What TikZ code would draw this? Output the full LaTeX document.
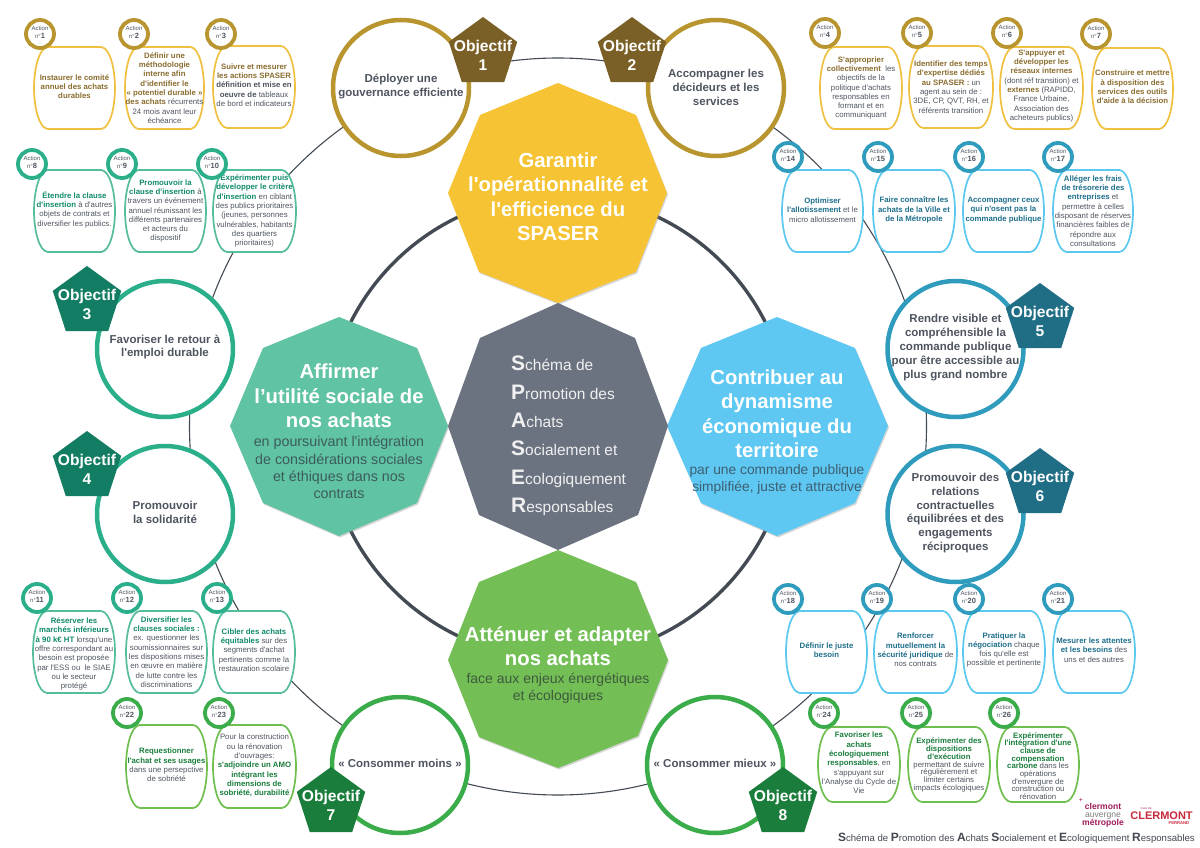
\documentclass[tikz,border=0pt]{standalone}
\usepackage{fontspec}
\setmainfont{Liberation Sans}[Ligatures=TeXOff]
\usetikzlibrary{shapes.geometric,shadows,calc}
\definecolor{ringdark}{HTML}{434A54}
\definecolor{bodytext}{HTML}{4F5560}
\definecolor{octyellow}{HTML}{F5C334}
\definecolor{octteal}{HTML}{60C3A3}
\definecolor{octblue}{HTML}{5EC8F2}
\definecolor{octgreen}{HTML}{73BF56}
\definecolor{octgray}{HTML}{6B7280}
\definecolor{subteal}{HTML}{3C5C5C}
\definecolor{subblue}{HTML}{3D5F72}
\definecolor{subgreen}{HTML}{3E5A3C}
\definecolor{goldring}{HTML}{B8952F}
\definecolor{goldbox}{HTML}{F0C040}
\definecolor{goldtitle}{HTML}{8A6D2F}
\definecolor{goldpent}{HTML}{7A6026}
\definecolor{tealring}{HTML}{2BAF8A}
\definecolor{tealbox}{HTML}{55BD9B}
\definecolor{tealtitle}{HTML}{0F8A6A}
\definecolor{tealpent}{HTML}{127D62}
\definecolor{bluering}{HTML}{2F9CBD}
\definecolor{bluebox}{HTML}{5BC8EF}
\definecolor{bluetitle}{HTML}{1F6F8B}
\definecolor{bluepent}{HTML}{1F6E86}
\definecolor{greenring}{HTML}{3AAC4A}
\definecolor{greenbox}{HTML}{6FBF4F}
\definecolor{greentitle}{HTML}{1A7D3C}
\definecolor{greenpent}{HTML}{1A7D3C}
\definecolor{logomag}{HTML}{A01A5A}
\definecolor{logored}{HTML}{C8283C}
\colorlet{titlecol}{black}
\newcommand\Kt[1]{{\bfseries\color{titlecol}#1}}
\newcommand\Dk[1]{{\bfseries\color{bodytext}#1}}
\newcommand\boxls{9.3}
\newcommand\actbox[8]{%
  \begin{scope}[shift={(#2,#3)},xscale={#4-#2},yscale={#5-#3}]
    \draw[barrelbox,draw=#6box] (.17,0) -- (.83,0) .. controls (.94,.01) and (1,.27) .. (1,.5)
      .. controls (1,.73) and (.94,.99) .. (.83,1) -- (.17,1)
      .. controls (.06,.99) and (0,.73) .. (0,.5) .. controls (0,.27) and (.06,.01) .. (.17,0) -- cycle;
  \end{scope}
  \colorlet{titlecol}{#6title}
  \node[boxtext] (box#1) at ({(#2+#4)/2},#7) {#8};
}
\newcommand\badge[4]{%
  \node[badgering,draw=#4ring] (ring#1) at (#2,#3) {};
  \node[badgetext] (act#1) at ($(ring#1)+(0,-2)$) {Action\\n°\textbf{\fontsize{7.5}{8}\selectfont #1}};
}
\newcommand\objective[8]{%
  % id, circle x, y, colour, pentagon x, y, text y, text
  \node[objcircle,draw=#4ring] (circ#1) at (#2,#3) {};
  \node[objtext] (lab#1) at (#2,#7) {#8};
  \node[pent,fill=#4pent] (pent#1) at (#5,#6) {};
  \node[penttext] (num#1) at ($(pent#1)+(0,2.5)$) {Objectif\\#1};
}
\tikzset{
  barrelbox/.style={fill=white,line width=1.7pt,line join=round},
  boxtext/.style={align=center,inner sep=0pt,text=bodytext,font=\fontsize{7.8}{\boxls}\selectfont},
  badgering/.style={circle,fill=white,line width=3.8pt,minimum size=28pt,inner sep=0pt},
  badgetext/.style={align=center,inner sep=0pt,text=bodytext,font=\fontsize{6}{8}\selectfont},
  objcircle/.style={circle,fill=white,line width=4.5pt,minimum size=136pt,inner sep=0pt},
  objtext/.style={align=center,inner sep=0pt,text=bodytext,font=\fontsize{11.5}{13.8}\selectfont\bfseries},
  pent/.style={regular polygon,regular polygon sides=5,minimum size=72pt,inner sep=0pt},
  penttext/.style={align=center,inner sep=0pt,text=white,font=\fontsize{15.6}{18.5}\selectfont\bfseries},
  octshadow/.style={drop shadow={shadow xshift=1pt,shadow yshift=-1.5pt,opacity=.35,fill=black!45}},
  octtitle/.style={align=center,inner sep=0pt,text=white,font=\fontsize{20.3}{24.5}\selectfont\bfseries},
  octsub/.style={align=center,inner sep=0pt,font=\fontsize{#1}{17.2}\selectfont},
  outerring/.style={draw=ringdark,line width=1.1pt},
  innerring/.style={draw=ringdark,line width=3.4pt},
}
\newcommand\Ini[1]{{\fontsize{21}{28.3}\selectfont\bfseries #1}}
\newcommand\Cin[1]{{\fontsize{12}{14}\selectfont\bfseries #1}}
\begin{document}
\begin{tikzpicture}[x=1pt,y=-1pt]
\useasboundingbox[fill=white] (0,0) rectangle (1200,848);

% rings
\coordinate (hub) at (558,426.5);
\draw[outerring] (hub) circle[radius=368.5pt];
\draw[innerring] (hub) circle[radius=232pt];

% octagons
\fill[octyellow,octshadow] (558,83) -- (636,115) -- (667,193) -- (636,272) -- (558,303) -- (479,272) -- (448,193) -- (480,115) -- cycle;
\fill[octteal,octshadow] (339,317) -- (417,348) -- (448,426) -- (417,503) -- (339,536) -- (263,503) -- (230,426) -- (263,348) -- cycle;
\fill[octblue,octshadow] (777,317) -- (855,348) -- (888,426) -- (855,503) -- (777,536) -- (701,503) -- (667,426) -- (701,348) -- cycle;
\fill[octgreen,octshadow] (558,550) -- (636,582) -- (668,660) -- (638,736) -- (558,768) -- (479,737) -- (448,660) -- (479,582) -- cycle;
\fill[octgray] (558,303) -- (635,338) -- (668,426) -- (638,515) -- (558,550) -- (479,515) -- (448,426) -- (480,338) -- cycle;

\node[octtitle] (t1) at (558,196.5) {Garantir\\l'opérationnalité et\\l'efficience du\\SPASER};
\node[octtitle] (t2) at (339,396) {Affirmer\\l’utilité sociale de\\nos achats};
\node[octsub=14.3,text=subteal] (s2) at (339,467.5) {en poursuivant l'intégration\\de considérations sociales\\et éthiques dans nos\\contrats};
\node[octtitle] (t3) at (777,413.5) {Contribuer au\\dynamisme\\économique du\\territoire};
\node[octsub=13.8,text=subblue] (s3) at (777,479.5) {par une commande publique\\simplifiée, juste et attractive};
\node[octtitle] (t4) at (558,646) {Atténuer et adapter\\nos achats};
\node[octsub=14,text=subgreen] (s4) at (558,688.5) {face aux enjeux énergétiques\\et écologiques};
\node[align=left,anchor=west,inner sep=0pt,text=white!94!black,font=\fontsize{15.5}{28.3}\selectfont] (centre) at (511,436)
 {\Ini{S}chéma de\\\Ini{P}romotion des\\\Ini{A}chats\\\Ini{S}ocialement et\\\Ini{E}cologiquement\\\Ini{R}esponsables};

% objectives
\objective{1}{401}{88}{gold}{483}{53}{86.5}{Déployer une\\gouvernance efficiente}
\objective{2}{716}{88}{gold}{632}{53}{87.5}{Accompagner les\\décideurs et les\\services}
\objective{3}{165}{349}{teal}{87}{302}{347}{Favoriser le retour à\\l'emploi durable}
\objective{4}{165}{514}{teal}{87}{467}{512}{Promouvoir\\la solidarité}
\objective{5}{955.5}{349}{blue}{1040}{319}{347.5}{Rendre visible et\\compréhensible la\\commande publique\\pour être accessible au\\plus grand nombre}
\objective{6}{955.5}{514}{blue}{1040}{484}{513}{Promouvoir des\\relations\\contractuelles\\équilibrées et des\\engagements\\réciproques}
\objective{7}{400}{765}{green}{331}{803}{763}{« Consommer moins »}
\objective{8}{715}{765}{green}{783}{803}{763}{« Consommer mieux »}

% action boxes
\actbox{1}{34}{47}{115}{129}{gold}{86.5}{\Kt{Instaurer le comité}\\\Kt{annuel des achats}\\\Kt{durables}}
\actbox{2}{125}{47}{204}{129}{gold}{88}{\Kt{Définir une}\\\Kt{méthodologie}\\\Kt{interne afin}\\\Kt{d'identifier le}\\\Kt{« potentiel durable »}\\\Kt{des achats} récurrents\\24 mois avant leur\\échéance}
\actbox{3}{213}{46}{295}{128}{gold}{85}{\Kt{Suivre et mesurer}\\\Kt{les actions SPASER}\\\Dk{définition et mise en}\\\Dk{oeuvre de} tableaux\\de bord et indicateurs}
\actbox{4}{820}{47}{902}{129}{gold}{88}{\Kt{S'approprier}\\\Kt{collectivement}~ les\\objectifs de la\\politique d'achats\\responsables en\\formant et en\\communiquant}
\actbox{5}{909}{46}{993}{128}{gold}{87}{\Kt{Identifier des temps}\\\Kt{d'expertise dédiés}\\\Kt{au SPASER :} un\\agent au sein de :\\3DE, CP, QVT, RH, et\\référents transition}
\actbox{6}{1000}{47}{1083}{129}{gold}{86}{\Kt{S'appuyer et}\\\Kt{développer les}\\\Kt{réseaux internes}\\(dont réf transition) et\\\Kt{externes} (RAPIDD,\\France Urbaine,\\Association des\\acheteurs publics)}
\actbox{7}{1092}{48}{1173}{129}{gold}{87}{\Kt{Construire et mettre}\\\Kt{à disposition des}\\\Kt{services des outils}\\\Kt{d'aide à la décision}}
\actbox{8}{34}{170}{115}{252}{teal}{209.5}{\Kt{Étendre la clause}\\\Kt{d'insertion} à d'autres\\objets de contrats et\\diversifier les publics.}
\actbox{9}{125}{170}{206}{252}{teal}{211}{\Kt{Promouvoir la}\\\Kt{clause d'insertion} à\\travers un événement\\annuel réunissant les\\différents partenaires\\et acteurs du\\dispositif}
\actbox{10}{213}{170}{296}{252}{teal}{211}{\Kt{Expérimenter puis}\\\Kt{développer le critère}\\\Kt{d'insertion} en ciblant\\des publics prioritaires\\(jeunes, personnes\\vulnérables, habitants\\des quartiers\\prioritaires)}
\actbox{11}{33}{611}{115}{693}{teal}{654}{\Kt{Réserver les}\\\Kt{marchés inférieurs}\\\Kt{à 90 k€ HT} lorsqu'une\\offre correspondant au\\besoin est proposée\\par l'ESS ou~ le SIAE\\ou le secteur\\protégé}
\actbox{12}{126}{611}{207}{693}{teal}{652}{\Kt{Diversifier les}\\\Kt{clauses sociales :}\\ex. questionner les\\soumissionnaires sur\\les dispositions mises\\en œuvre en matière\\de lutte contre les\\discriminations}
\actbox{13}{213}{611}{295}{693}{teal}{650}{\Kt{Cibler des achats}\\\Kt{équitables} sur des\\segments d'achat\\pertinents comme la\\restauration scolaire}
\actbox{14}{782}{170}{863}{252}{blue}{210}{\Kt{Optimiser}\\\Kt{l'allotissement} et le\\micro allotissement}
\actbox{15}{873}{170}{955}{252}{blue}{210}{\Kt{Faire connaître les}\\\Kt{achats de la Ville et}\\\Kt{de la Métropole}}
\actbox{16}{963}{170}{1044}{252}{blue}{210}{\Kt{Accompagner ceux}\\\Kt{qui n'osent pas la}\\\Kt{commande publique}}
\actbox{17}{1053}{170}{1133}{252}{blue}{211}{\Kt{Alléger les frais}\\\Kt{de trésorerie des}\\\Kt{entreprises} et\\permettre à celles\\disposant de réserves\\financières faibles de\\répondre aux\\consultations}
\actbox{18}{786}{611}{867}{693}{blue}{650.5}{\Kt{Définir le juste}\\\Kt{besoin}}
\actbox{19}{874}{611}{957}{693}{blue}{650}{\Kt{Renforcer}\\\Kt{mutuellement la}\\\Kt{sécurité juridique} de\\nos contrats}
\actbox{20}{963}{611}{1045}{693}{blue}{650}{\Kt{Pratiquer la}\\\Kt{négociation} chaque\\fois qu'elle est\\possible et pertinente}
\actbox{21}{1053}{611}{1135}{693}{blue}{650}{\Kt{Mesurer les attentes}\\\Kt{et les besoins} des\\uns et des autres}
\actbox{22}{126}{725}{207}{808}{green}{765}{\Kt{Requestionner}\\\Kt{l'achat et ses usages}\\dans une persepctive\\de sobriété}
\actbox{23}{213}{725}{296}{808}{green}{765.5}{Pour la construction\\ou la rénovation\\d'ouvrages:\\\Kt{s'adjoindre un AMO}\\\Kt{intégrant les}\\\Kt{dimensions de}\\\Kt{sobriété, durabilité}}
\actbox{24}{818}{727}{900}{802}{green}{763}{\Kt{Favoriser les}\\\Kt{achats}\\\Kt{écologiquement}\\\Kt{responsables}, en\\s'appuyant sur\\l'Analyse du Cycle de\\Vie}
\renewcommand\boxls{7.7}
\actbox{25}{908}{727}{990}{802}{green}{765}{\Kt{Expérimenter des}\\\Kt{dispositions}\\\Kt{d'exécution}\\permettant de suivre\\régulièrement et\\limiter certains\\impacts écologiques}
\actbox{26}{997}{727}{1079}{802}{green}{766}{\Kt{Expérimenter}\\\Kt{l'intégration d'une}\\\Kt{clause de}\\\Kt{compensation}\\\Kt{carbone} dans les\\opérations\\d'envergure de\\construction ou\\rénovation}

% action badges
\badge{1}{40}{34}{gold}\badge{2}{134}{34}{gold}\badge{3}{221}{34}{gold}
\badge{4}{825}{33}{gold}\badge{5}{917}{33}{gold}\badge{6}{1007}{33}{gold}\badge{7}{1096}{34}{gold}
\badge{8}{32}{164}{teal}\badge{9}{122}{164}{teal}\badge{10}{212}{164}{teal}
\badge{11}{37}{598}{teal}\badge{12}{127}{598}{teal}\badge{13}{217}{598}{teal}
\badge{14}{788}{157}{blue}\badge{15}{878}{157}{blue}\badge{16}{969}{157}{blue}\badge{17}{1058}{157}{blue}
\badge{18}{788}{599}{blue}\badge{19}{877}{599}{blue}\badge{20}{969}{599}{blue}\badge{21}{1058}{599}{blue}
\badge{22}{127}{713}{green}\badge{23}{219}{713}{green}
\badge{24}{824}{713}{green}\badge{25}{916}{713}{green}\badge{26}{1004}{713}{green}

% logos
\node[inner sep=0pt,text=logomag,font=\fontsize{7}{7}\selectfont] (plus) at (1081,800) {+};
\node[align=center,inner sep=0pt,font=\fontsize{8.6}{8.2}\selectfont] (metro) at (1103,815.5)
 {\textcolor{logomag}{\textbf{clermont}}\\\textcolor{gray}{auvergne}\\\textcolor{logomag}{\textbf{métropole}}};
\node[inner sep=0pt,text=logomag,font=\fontsize{2.6}{3}\selectfont] (ville) at (1146,809) {VILLE DE};
\node[inner sep=0pt,text=logored,font=\fontsize{11}{12}\selectfont\bfseries] (ville2) at (1161.5,815.5) {CLERMONT};
\node[inner sep=0pt,text=logored,font=\fontsize{4.2}{5}\selectfont\bfseries] (ville3) at (1179,823) {FERRAND};

% caption
\node[anchor=base east,inner sep=0pt,text=bodytext!85!black,font=\fontsize{9.6}{12}\selectfont] (caption) at (1195,841)
 {\Cin{S}chéma de \Cin{P}romotion des \Cin{A}chats \Cin{S}ocialement et \Cin{E}cologiquement \Cin{R}esponsables};
\end{tikzpicture}
\end{document}
